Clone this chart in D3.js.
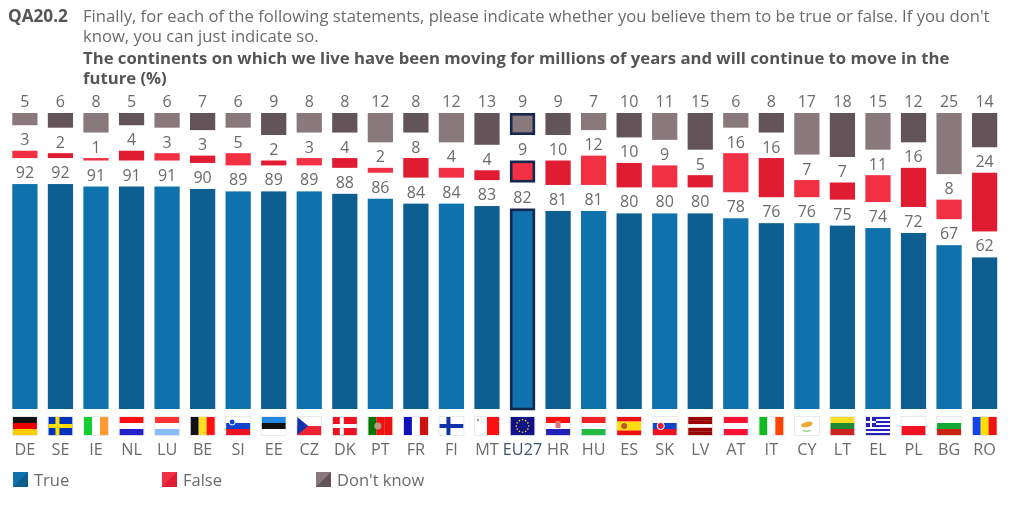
<!DOCTYPE html>
<html><head><meta charset="utf-8">
<script src="https://cdn.jsdelivr.net/npm/d3@7"></script>
<style>
html,body{margin:0;padding:0;background:#fff}
svg{display:block;filter:blur(0.35px)}
text{font-family:"Open Sans",sans-serif;fill:#6b6b6b}
</style></head><body>
<svg id="c" width="1024" height="517"></svg>
<script>
const countries=["DE","SE","IE","NL","LU","BE","SI","EE","CZ","DK","PT","FR","FI","MT","EU27","HR","HU","ES","SK","LV","AT","IT","CY","LT","EL","PL","BG","RO"];
const trueVals=[92,92,91,91,91,90,89,89,89,88,86,84,84,83,82,81,81,80,80,80,78,76,76,75,74,72,67,62];
const falseVals=[3,2,1,4,3,3,5,2,3,4,2,8,4,4,9,10,12,10,9,5,16,16,7,7,11,16,8,24];
const dkVals=[5,6,8,5,6,7,6,9,8,8,12,8,12,13,9,9,7,10,11,15,6,8,17,18,15,12,25,14];
const titleLines=["Finally, for each of the following statements, please indicate whether you believe them to be true or false. If you don't","know, you can just indicate so."];
const boldLines=["The continents on which we live have been moving for millions of years and will continue to move in the","future (%)"];
const legendItems=["True","False","Don't know"];
const trueColors=["#1072ad","#0c5f90"];
const falseColors=["#f23044","#e01c32"];
const dkColors=["#8a797c","#625459"];
const flagStripes={DE:["h","#111","#e00","#fc0"],IE:["v","#1c3","#fff","#f93"],NL:["h","#f11","#fff","#22c"],LU:["h","#f33","#fff","#8bf"],BE:["v","#111","#fd2","#f11"],SI:["h","#fff","#14c","#e12"],EE:["h","#28d","#111","#fff"],CZ:["h","#fff","#e23"],PT:["v","#070","#e11","#e11"],FR:["v","#11b","#fff","#c11"],MT:["v","#fff","#f11"],HR:["h","#f11","#fff","#22b"],HU:["h","#e22","#fff","#2b4"],ES:["h","#e11","#fd1","#fd1","#e11"],SK:["h","#fff","#14c","#e12"],LV:["h","#900","#900","#fff","#900","#900"],AT:["h","#f13","#fff","#f13"],IT:["v","#1b2","#fff","#f40"],LT:["h","#fd2","#283","#c22"],PL:["h","#fff","#e12"],BG:["h","#fff","#1a3","#c21"],RO:["v","#14e","#fd0","#e11"],CY:["h","#fff"],EU27:["h","#118"],EL:["h","#22b","#fff","#22b","#fff","#22b","#fff","#22b","#fff","#22b"],SE:["h","#03b"],FI:["h","#fff"],DK:["h","#e12"]};
const crossFlags={SE:"#fd0",FI:"#13a",DK:"#fff"};

const svg=d3.select("#c");
const W=24,H=18;
const x=d3.scaleBand().domain(countries).range([7.3,1002.2]).paddingInner(0.29).paddingOuter(0.14);
const base=409,unit=2.445,gap=26,dkTop=113;
const y=d3.scaleLinear().domain([0,100]).range([0,100*unit]);
const bw=x.bandwidth();

function rowStyle(g,i,c,cols){
  const eu=c==="EU27";
  return g.attr("fill",cols[i%2]).attr("stroke",eu?"#14284f":"none").attr("stroke-width",eu?2.6:0);
}
countries.forEach((c,i)=>{
  const eu=c==="EU27",inset=eu?1.3:0,bx=x(c)+inset,w=bw-2*inset;
  const tTop=base-y(trueVals[i]);
  const fH=y(falseVals[i]),fBot=tTop-gap,fTop=fBot-fH,dH=y(dkVals[i]);
  rowStyle(svg.append("rect").attr("x",bx).attr("y",tTop+inset).attr("width",w).attr("height",y(trueVals[i])-inset),i,c,trueColors);
  rowStyle(svg.append("rect").attr("x",bx).attr("y",fTop+inset).attr("width",w).attr("height",fH-2*inset),i,c,falseColors);
  rowStyle(svg.append("rect").attr("x",bx).attr("y",dkTop+inset).attr("width",w).attr("height",dH-2*inset),i,c,dkColors);
  const cx=x(c)+bw/2;
  const lab=(yy,v)=>svg.append("text").attr("x",cx).attr("y",yy).attr("text-anchor","middle").attr("font-size",16).text(v);
  lab(tTop-6,trueVals[i]);
  lab(fTop-5.5,falseVals[i]);
  lab(107,dkVals[i]);
  svg.append("text").attr("x",cx).attr("y",455).attr("text-anchor","middle").attr("font-size",16.2)
    .style("fill",eu?"#3d5270":"#6b6b6b").text(c);
  drawFlag(c,cx-W/2,417);
});

function drawFlag(c,fx,fy){
  const g=svg.append("g").attr("transform",`translate(${fx},${fy})`);
  const [dir,...cols]=flagStripes[c];
  const band=d3.scaleBand().domain(d3.range(cols.length)).range([0,dir==="h"?H:W]);
  cols.forEach((col,k)=>{
    if(dir==="h")g.append("rect").attr("y",band(k)).attr("width",W).attr("height",band.bandwidth()+.2).attr("fill",col);
    else g.append("rect").attr("x",band(k)).attr("width",band.bandwidth()+.2).attr("height",H).attr("fill",col);
  });
  if(crossFlags[c]){
    g.append("rect").attr("x",7).attr("width",4).attr("height",H).attr("fill",crossFlags[c]);
    g.append("rect").attr("y",7).attr("width",W).attr("height",4).attr("fill",crossFlags[c]);
  }
  if(c==="CZ")g.append("path").attr("d",`M0,0L11,9L0,18Z`).attr("fill","#13a");
  if(c==="EL"){g.append("rect").attr("width",10).attr("height",10).attr("fill","#22b");
    g.append("rect").attr("x",4).attr("width",2).attr("height",10).attr("fill","#fff");
    g.append("rect").attr("y",4).attr("width",10).attr("height",2).attr("fill","#fff");}
  if(c==="SI")g.append("circle").attr("cx",6).attr("cy",5).attr("r",3).attr("fill","#14c").attr("stroke","#fff");
  if(c==="SK")g.append("circle").attr("cx",8).attr("cy",9).attr("r",3.6).attr("fill","#d23").attr("stroke","#fff");
  if(c==="PT")g.append("circle").attr("cx",9.5).attr("cy",9).attr("r",3.5).attr("fill","#b98");
  if(c==="ES")g.append("circle").attr("cx",7).attr("cy",9).attr("r",3).attr("fill","#b53");
  if(c==="HR")g.append("rect").attr("x",9.5).attr("y",4).attr("width",5).attr("height",7).attr("fill","#d77");
  if(c==="MT")g.append("circle").attr("cx",3).attr("cy",3).attr("r",1.2).attr("fill","#999");
  if(c==="CY"){g.append("ellipse").attr("cx",12).attr("cy",7.5).attr("rx",6).attr("ry",2.6).attr("fill","#ea3").attr("transform","rotate(-15 12 7.5)");
    g.append("path").attr("d","M8,13Q12,16 16,13").attr("fill","none").attr("stroke","#9c8").attr("stroke-width",1.4);}
  if(c==="EU27")d3.range(12).forEach(k=>{const a=k/12*2*Math.PI;
    g.append("circle").attr("cx",12+6.2*Math.cos(a)).attr("cy",9+6.2*Math.sin(a)).attr("r",.8).attr("fill","#fd0");});
  g.append("rect").attr("x",-.5).attr("y",-.5).attr("width",W+1).attr("height",H+1).attr("fill","none").attr("stroke","#ddd").attr("stroke-width",.6);
}

svg.append("text").attr("x",8).attr("y",22).attr("font-size",17.2).attr("font-weight",700).style("fill","#555").text("QA20.2");
titleLines.forEach((t,i)=>svg.append("text").attr("x",83).attr("y",[22,42][i]).attr("font-size",16.65).text(t));
boldLines.forEach((t,i)=>svg.append("text").attr("x",83).attr("y",[64,84][i]).attr("font-size",16.7).attr("font-weight",700).style("fill","#555").text(t));

const legendX=[13,162,316];
const legendFill=[trueColors,falseColors,dkColors];
legendItems.forEach((t,i)=>{
  svg.append("rect").attr("x",legendX[i]).attr("y",472).attr("width",15).attr("height",15).attr("fill",legendFill[i][0]);
  svg.append("path").attr("d",`M${legendX[i]},487L${legendX[i]+15},472V487Z`).attr("fill",legendFill[i][1]);
  svg.append("text").attr("x",legendX[i]+21).attr("y",486).attr("font-size",16.5).text(t);
});
</script></body></html>
